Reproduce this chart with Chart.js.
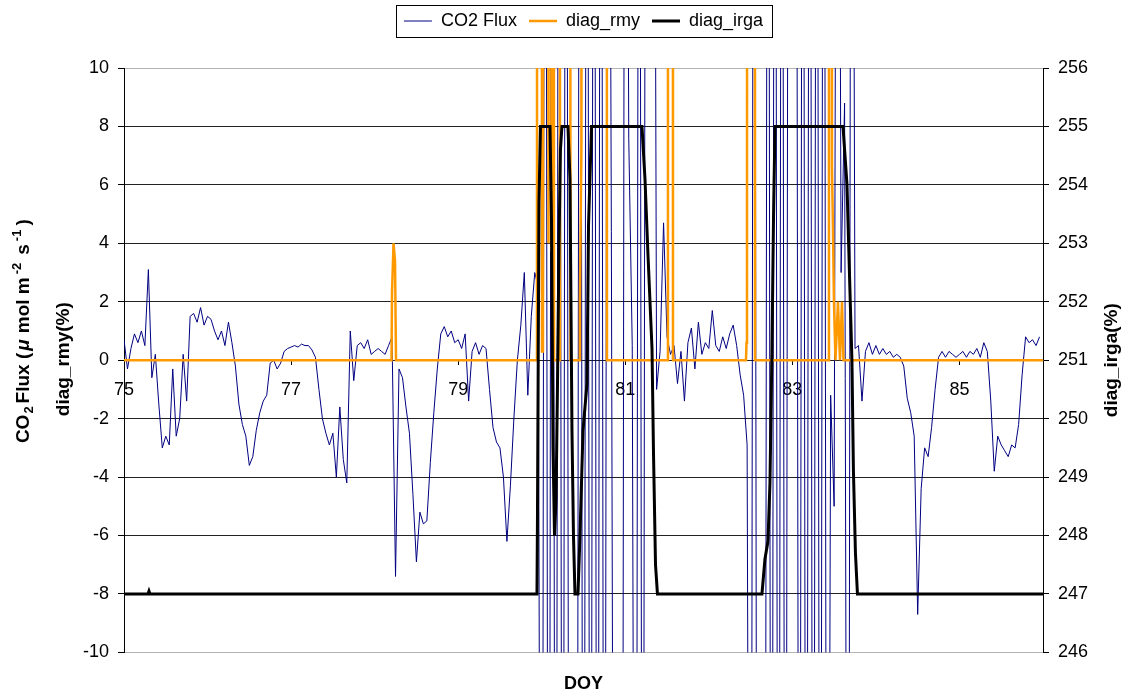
<!DOCTYPE html>
<html>
<head>
<meta charset="utf-8">
<title>CO2 flux and diagnostics</title>
<script src="https://cdn.jsdelivr.net/npm/chart.js@4.4.0/dist/chart.umd.min.js"></script>
<style>
  html, body { margin: 0; padding: 0; background: #fff; }
</style>
</head>
<body>
<canvas id="fluxChart" width="1125" height="695"></canvas>
<script>
// hourly CO2 flux, one array per day of year (hour 0..23)
var flux75 = [0.7, -0.3, 0.4, 0.9, 0.6, 1.0, 0.5, 3.1, -0.6, 0.2, -1.5, -3.0, -2.6, -2.9, -0.3, -2.6, -2.0, 0.2, -1.4, 1.5, 1.6, 1.3, 1.8, 1.2];
var flux76 = [1.5, 1.4, 1.0, 0.7, 1.0, 0.5, 1.3, 0.6, -0.2, -1.5, -2.2, -2.6, -3.6, -3.3, -2.4, -1.8, -1.4, -1.2, -0.1, 0.0, -0.3, -0.1, 0.3, 0.4];
var flux77 = [0.45, 0.5, 0.45, 0.55, 0.5, 0.5, 0.35, 0.1, -1.0, -2.0, -2.5, -2.9, -2.5, -4.0, -1.6, -3.4, -4.2, 1.0, -0.7, 0.5, 0.6, 0.4, 0.7, 0.2];
var flux78 = [0.3, 0.4, 0.3, 0.2, 0.5, 0.8, -7.4, -0.3, -0.6, -1.6, -2.5, -4.6, -6.9, -5.2, -5.6, -5.5, -3.5, -1.8, -0.3, 0.9, 1.15, 0.8, 1.0, 0.6];
var flux79 = [0.7, 0.4, 0.9, -1.4, 0.3, 0.6, 0.2, 0.5, 0.4, -1.0, -2.3, -2.8, -3.0, -4.0, -6.2, -4.3, -2.0, 0.0, 1.2, 3.0, -1.2, 1.5, 3.0, 2.5];
var flux80 = [-40, 40, -40, 40, -40, 40, -40, 40, -40, -40, -40, 40, -40, 40, -40, 40, -40, 40, -40, 40, 4.4, -40, -40, -40];
var flux81 = [40, 7.6, 0.5, -40, 40, -40, 40, 40, 40, -1.0, 0.3, 4.7, 0.8, 0.2, 0.5, -0.8, 0.3, -1.4, 0.6, 1.1, -0.3, 1.3, 0.2, 0.6];
var flux82 = [0.4, 1.7, 0.5, 0.3, 0.8, 0.4, 0.9, 1.2, 0.5, -0.5, -1.2, -2.9, -40, 40, -40, -40, -40, 40, -40, 40, -40, 40, -40, 40];
var flux83 = [40, 40, -40, 40, -40, 40, -40, 40, -40, 40, -40, -1.2, -5.0, 40, 3.0, 8.8, -40, 40, 0.4, 0.5, -1.4, 0.3, 0.6, 0.2];
var flux84 = [0.5, 0.2, 0.4, 0.2, 0.3, 0.1, 0.2, 0.1, -0.2, -1.3, -1.8, -2.6, -8.7, -4.4, -3.0, -3.3, -2.3, -1.0, 0.1, 0.3, 0.1, 0.3, 0.2, 0.1];
var flux85 = [0.2, 0.3, 0.1, 0.3, 0.2, 0.4, 0.1, 0.6, 0.3, -1.4, -3.8, -2.6, -2.9, -3.1, -3.3, -2.9, -3.0, -2.2, -0.5, 0.8, 0.6, 0.7, 0.5, 0.8];

// sonic anemometer diagnostic (% of flagged samples)
var rmyDoy = [75.000, 78.202, 78.208, 78.226, 78.244, 78.256,
  79.943, 79.949, 79.991, 80.003, 80.015, 80.021, 80.063, 80.081, 80.099, 80.117, 80.135, 80.147,
  80.212, 80.218, 80.332, 80.344, 80.451, 80.457, 80.475, 80.494, 80.769, 80.781,
  81.505, 81.511, 81.565, 81.571,
  82.445, 82.451, 82.457, 82.469, 82.547, 82.553,
  83.432, 83.438, 83.462, 83.474, 83.486, 83.498, 83.516, 83.546, 83.570, 83.594, 83.612, 86.000];
var rmyVal = [0, 0, 2.3, 4.0, 3.4, 0,
  0, 100, 100, 0.3, 0.3, 100, 100, 4, 100, 3.7, 100, 0,
  0, 100, 100, 0, 0, 2.0, 7.3, 100, 100, 0,
  0, 100, 100, 0,
  0, 0.6, 5.6, 100, 100, 0,
  0, 100, 100, 6.6, 4.5, 2.0, 0, 2.0, 0, 2.0, 0, 0];

// gas analyser diagnostic, right axis
var irgaDoy = [75.000, 75.287, 75.299, 75.311,
  79.943, 79.949, 79.967, 79.985, 80.099, 80.117, 80.135, 80.153, 80.171, 80.188, 80.207, 80.224, 80.242,
  80.314, 80.338, 80.362, 80.380, 80.398, 80.434, 80.458, 80.494, 80.542, 80.560, 80.596,
  81.200, 81.236, 81.272, 81.320, 81.338, 81.362, 81.385,
  82.636, 82.672, 82.708, 82.732, 82.756, 82.774, 82.792,
  83.606, 83.654, 83.689, 83.713, 83.731, 83.755, 83.779, 86.000];
var irgaVal = [247, 247, 247.05, 247,
  247, 248.3, 253.7, 255, 255, 253.4, 249.5, 248.0, 248.6, 250.5, 253.0, 254.6, 255,
  255, 254.1, 249.8, 248, 247, 247, 248, 249.8, 250.6, 253.3, 255,
  255, 254.1, 252.8, 251.2, 249.4, 247.5, 247,
  247, 247.6, 247.9, 248.9, 251.2, 253.4, 255,
  255, 254, 252.2, 251, 249.1, 247.7, 247, 247];

var doyTicks = [75, 77, 79, 81, 83, 85];

function hourly(day, values) {
  return values.map(function (v, h) {
    return {x: day + h / 24, y: v};
  });
}

function pairs(xs, ys) {
  return xs.map(function (x, i) {
    return {x: x, y: ys[i]};
  });
}

var fluxData = [].concat(
  hourly(75, flux75), hourly(76, flux76), hourly(77, flux77), hourly(78, flux78),
  hourly(79, flux79), hourly(80, flux80), hourly(81, flux81), hourly(82, flux82),
  hourly(83, flux83), hourly(84, flux84), hourly(85, flux85)
);

var FONT = '"Liberation Sans", Arial, sans-serif';
Chart.defaults.font.family = FONT;
Chart.defaults.color = '#000';

// box round the legend items
var legendFrame = {
  id: 'legendFrame',
  afterDraw: function (chart) {
    var boxes = chart.legend && chart.legend.legendHitBoxes;
    if (!boxes || !boxes.length) return;
    var first = boxes[0], last = boxes[boxes.length - 1];
    var x0 = Math.round(first.left - 8) + 0.5;
    var x1 = Math.round(last.left + last.width + 9) + 0.5;
    var y0 = Math.round(first.top - 7) + 0.5;
    var y1 = Math.round(first.top + first.height + 7) + 0.5;
    var ctx = chart.ctx;
    ctx.save();
    ctx.strokeStyle = '#000';
    ctx.lineWidth = 1;
    ctx.strokeRect(x0, y0, x1 - x0, y1 - y0);
    ctx.restore();
  }
};

// rotated text made of runs (sub/superscripts), centred on cx, cy
function drawRotatedRuns(ctx, runs, cx, cy) {
  ctx.save();
  ctx.translate(cx, cy);
  ctx.rotate(-Math.PI / 2);
  ctx.textBaseline = 'alphabetic';
  ctx.textAlign = 'left';
  ctx.fillStyle = '#000';
  var total = 0;
  runs.forEach(function (r) {
    ctx.font = r.font;
    r.w = ctx.measureText(r.text).width + (r.gap || 0);
    total += r.w;
  });
  var x = -total / 2;
  runs.forEach(function (r) {
    ctx.font = r.font;
    ctx.fillText(r.text, x, 7 + (r.dy || 0));
    x += r.w;
  });
  ctx.restore();
}

var B19 = 'bold 19px ' + FONT;
var B13 = 'bold 13px ' + FONT;

// axis titles: left one in two lines, right one reads bottom to top too
var axisTitles = {
  id: 'axisTitles',
  afterDraw: function (chart) {
    var ctx = chart.ctx;
    var area = chart.chartArea;
    var mid = (area.top + area.bottom) / 2;
    drawRotatedRuns(ctx, [
      {text: 'CO', font: B19, gap: 1},
      {text: '2', font: B13, dy: 4, gap: 3},
      {text: 'Flux (', font: B19, gap: 2},
      {text: '\u03bc', font: 'italic bold 19px ' + FONT, gap: 6},
      {text: 'mol m', font: B19, gap: 3},
      {text: '-2', font: B13, dy: -8, gap: 8},
      {text: 's', font: B19, gap: 3},
      {text: '-1', font: B13, dy: -8, gap: 4},
      {text: ')', font: B19}
    ], 22, mid - 29);
    drawRotatedRuns(ctx, [{text: 'diag_rmy(%)', font: B19}], 62, mid - 1);
    drawRotatedRuns(ctx, [{text: 'diag_irga(%)', font: B19}], chart.scales.y2.right - 15, mid);
  }
};

var ctx = document.getElementById('fluxChart').getContext('2d');
var fluxChart = new Chart(ctx, {
  type: 'line',
  data: {
    datasets: [{
      label: 'CO2 Flux',
      data: fluxData,
      borderColor: '#000080',
      backgroundColor: '#000080',
      borderWidth: 1,
      pointRadius: 0,
      xAxisID: 'x',
      yAxisID: 'y',
      order: 3
    }, {
      label: 'diag_rmy',
      data: pairs(rmyDoy, rmyVal),
      borderColor: '#ff9900',
      backgroundColor: '#ff9900',
      borderWidth: 2.5,
      pointRadius: 0,
      xAxisID: 'x',
      yAxisID: 'y',
      order: 2
    }, {
      label: 'diag_irga',
      data: pairs(irgaDoy, irgaVal),
      borderColor: '#000',
      backgroundColor: '#000',
      borderWidth: 3,
      pointRadius: 0,
      xAxisID: 'x',
      yAxisID: 'y2',
      order: 1
    }]
  },
  options: {
    responsive: false,
    animation: false,
    events: [],
    layout: {padding: 0},
    plugins: {
      tooltip: {enabled: false},
      legend: {
        position: 'top',
        fullSize: false,
        labels: {
          color: '#000',
          font: {size: 18},
          usePointStyle: true,
          pointStyle: 'line',
          pointStyleWidth: 28,
          padding: 12,
          sort: function (a, b) { return a.datasetIndex - b.datasetIndex; }
        }
      }
    },
    scales: {
      x: {
        type: 'linear',
        min: 75,
        max: 86,
        position: {y: 0},
        afterBuildTicks: function (scale) {
          scale.ticks = doyTicks.map(function (v) { return {value: v}; });
        },
        grid: {drawOnChartArea: false, drawTicks: true, tickLength: 5, color: '#000'},
        border: {display: false},
        ticks: {
          color: '#000',
          font: {size: 18},
          padding: 14,
          maxRotation: 0,
          autoSkip: false,
          callback: function (v) { return v; }
        }
      },
      xTop: {
        type: 'linear',
        min: 75,
        max: 86,
        position: 'top',
        ticks: {display: false},
        grid: {display: false, drawTicks: false},
        border: {display: false},
        afterFit: function (scale) { scale.height = 28; }
      },
      xb: {
        type: 'linear',
        min: 75,
        max: 86,
        position: 'bottom',
        ticks: {display: false},
        grid: {display: false, drawTicks: false},
        border: {display: true, color: '#b4b4b4'},
        title: {
          display: true,
          text: 'DOY',
          color: '#000',
          font: {size: 18, weight: 'bold'},
          padding: {top: 21, bottom: 0}
        }
      },
      y: {
        min: -10,
        max: 10,
        position: 'left',
        ticks: {stepSize: 2, color: '#000', font: {size: 18}, padding: 9},
        grid: {
          color: function (c) {
            return c.tick && Math.abs(c.tick.value) === 10 ? '#b4b4b4' : '#222';
          },
          tickColor: '#000',
          tickLength: 6
        },
        border: {display: true, color: '#000'},
        afterFit: function (scale) { scale.width = 124; }
      },
      y2: {
        min: 246,
        max: 256,
        position: 'right',
        ticks: {stepSize: 1, color: '#000', font: {size: 18}, padding: 9},
        grid: {drawOnChartArea: false, color: '#000', tickLength: 6},
        border: {display: true, color: '#000'},
        afterFit: function (scale) { scale.width = 82; }
      }
    }
  },
  plugins: [legendFrame, axisTitles]
});
</script>
</body>
</html>
